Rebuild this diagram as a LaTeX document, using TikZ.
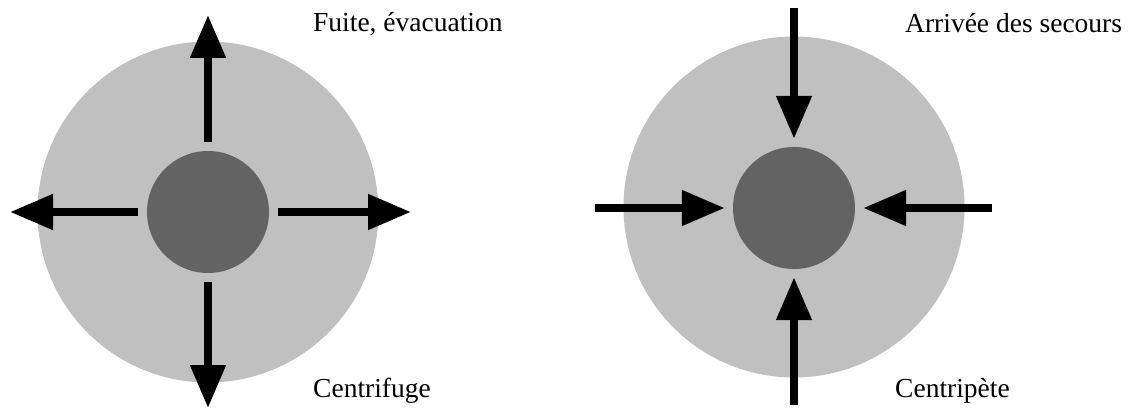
\documentclass[tikz,border=0pt]{standalone}
\usepackage{fontspec}
\setmainfont{Liberation Serif}
\usetikzlibrary{arrows.meta}
\definecolor{zonegray}{RGB}{192,192,192}
\definecolor{coregray}{RGB}{99,99,99}
\begin{document}
\begin{tikzpicture}[
            x=1pt, y=-1pt,
            zone/.style={circle, fill=zonegray, minimum size=341pt, inner sep=0pt},
            core/.style={circle, fill=coregray, minimum size=122pt, inner sep=0pt},
            flow/.style={line width=8pt, -{Triangle[length=43pt, width=34pt]}},
            txt/.style={anchor=base west, inner sep=0pt, font=\fontsize{27.5}{33}\selectfont}
            ]
            \useasboundingbox (0,0) rectangle (1128,409);
            % centrifuge
            \node[zone] (zoneL) at (208,212) {};
            \node[core] (coreL) at (208,212) {};
            \coordinate (outN) at (208,15);
            \coordinate (outW) at (10,212);
            \coordinate (outE) at (411,212);
            \coordinate (outS) at (208,408);
            \foreach \d in {N,W,E,S}
              \draw[flow, shorten <=9pt] (coreL) -- (out\d);
            \node[txt] (fuite) at (313,32) {Fuite, évacuation};
            \node[txt] (centrifuge) at (313,397) {Centrifuge};
            % centripete
            \node[zone] (zoneR) at (794,207) {};
            \node[core] (coreR) at (794,208) {};
            \coordinate (inN) at (794,8);
            \coordinate (inW) at (595,208);
            \coordinate (inE) at (992,208);
            \coordinate (inS) at (794,405);
            \foreach \d in {N,W,E,S}
              \draw[flow, shorten >=8pt] (in\d) -- (coreR);
            \node[txt] (arrivee) at (905,33) {Arrivée des secours};
            \node[txt] (centripete) at (895,397) {Centripète};
        \end{tikzpicture}
\end{document}
